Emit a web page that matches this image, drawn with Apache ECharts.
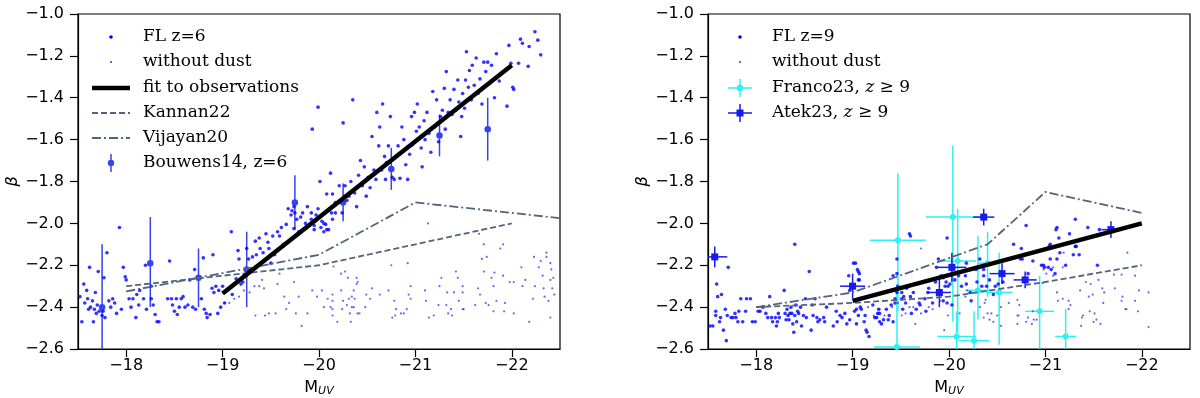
<!DOCTYPE html>
<html>
<head>
<meta charset="utf-8">
<script src="https://cdn.jsdelivr.net/npm/echarts@6/dist/echarts.min.js"></script>
<style>
html,body{margin:0;padding:0;background:#fff;}
#main{width:1200px;height:398px;}
</style>
</head>
<body>
<div id="main"></div>
<script>
// tick positions (M_UV)
var xTicks = [-22, -21, -20, -19, -18];

// z=6 simulated galaxies, with dust
var fl6Dust = [
	[-17.52,-2.35],[-17.54,-2.47],[-17.56,-2.29],[-17.57,-2.38],[-17.59,-2.32],[-17.61,-2.41],[-17.62,-2.21],[-17.63,-2.40],
	[-17.65,-2.37],[-17.66,-2.47],[-17.68,-2.33],[-17.69,-2.43],[-17.71,-2.23],[-17.72,-2.42],[-17.76,-2.42],[-17.77,-2.26],
	[-17.78,-2.45],[-17.80,-2.14],[-17.82,-2.37],[-17.84,-2.40],[-17.86,-2.36],[-17.88,-2.38],[-17.90,-2.43],[-17.93,-2.02],
	[-17.95,-2.41],[-17.97,-2.21],[-17.60,-2.36],[-17.70,-2.39],[-17.75,-2.44],[-17.67,-2.41],
	[-17.99,-2.255],[-18.00,-2.27],[-18.03,-2.36],[-18.05,-2.40],[-18.07,-2.36],[-18.10,-2.45],[-18.11,-2.34],[-18.13,-2.39],
	[-18.14,-2.32],[-18.18,-2.36],[-18.20,-2.20],[-18.21,-2.41],[-18.26,-2.30],[-18.26,-2.36],[-18.28,-2.39],[-18.30,-2.435],
	[-18.32,-2.47],[-18.34,-2.47],[-18.43,-2.36],[-18.45,-2.18],[-18.47,-2.36],[-18.48,-2.39],[-18.50,-2.42],[-18.52,-2.36],
	[-18.53,-2.435],[-18.55,-2.40],[-18.57,-2.36],[-18.59,-2.35],[-18.61,-2.40],[-18.64,-2.39],[-18.66,-2.27],[-18.69,-2.40],
	[-18.71,-2.22],[-18.72,-2.41],[-18.78,-2.36],[-18.80,-2.165],[-18.81,-2.41],[-18.83,-2.43],[-18.84,-2.45],[-18.87,-2.435],
	[-18.89,-2.31],[-18.90,-2.15],[-18.91,-2.33],[-18.93,-2.30],[-18.95,-2.43],[-18.96,-2.32],[-18.98,-2.40],[-19.00,-2.30],
	[-19.02,-2.38],[-19.05,-2.32],[-19.09,-2.04],[-19.10,-2.34],[-19.12,-2.29],[-19.14,-2.265],[-19.16,-2.13],[-19.17,-2.17],
	[-19.19,-2.29],[-19.21,-2.28],[-19.22,-2.25],[-19.25,-2.12],[-19.27,-2.17],[-19.29,-2.22],[-19.31,-2.16],[-19.34,-2.085],
	[-19.35,-2.15],[-19.38,-2.07],[-19.39,-2.12],[-19.42,-2.14],[-19.45,-2.05],[-19.47,-2.09],[-19.48,-2.12],[-19.50,-2.19],
	[-19.52,-2.06],[-19.54,-2.15],[-19.57,-2.04],[-19.59,-2.06],[-19.61,-2.02],[-19.63,-2.10],[-19.66,-2.005],[-19.68,-1.93],
	[-19.71,-1.96],[-19.72,-1.94],[-19.74,-2.025],[-19.77,-1.98],[-19.79,-2.04],[-19.81,-1.97],[-19.83,-1.95],[-19.86,-2.00],
	[-19.88,-1.92],[-19.90,-2.01],[-19.92,-1.98],[-19.95,-2.01],[-19.97,-1.96],[-19.99,-1.93],[-20.02,-2.02],[-20.03,-1.99],
	[-20.05,-2.04],[-20.07,-2.005],[-20.10,-2.03],[-20.14,-1.98],[-20.17,-1.95],
	[-19.74,-1.92],[-19.75,-1.95],[-19.93,-1.55],[-19.99,-1.445],[-20.01,-1.80],[-20.08,-1.86],[-20.12,-1.76],[-20.14,-1.86],
	[-20.17,-1.90],[-20.21,-1.82],[-20.24,-1.95],[-20.25,-1.52],[-20.27,-1.82],[-20.29,-1.89],[-20.31,-1.87],[-20.33,-1.80],
	[-20.35,-1.41],[-20.37,-1.855],[-20.39,-1.92],[-20.41,-1.77],[-20.43,-1.70],[-20.45,-1.82],[-20.47,-1.73],[-20.49,-1.87],
	[-20.51,-1.78],[-20.53,-1.83],[-20.55,-1.585],[-20.57,-1.745],[-20.59,-1.79],[-20.60,-1.47],[-20.62,-1.63],[-20.63,-1.54],
	[-20.65,-1.745],[-20.66,-1.43],[-20.68,-1.68],[-20.69,-1.79],[-20.70,-1.71],[-20.72,-1.63],[-20.74,-1.49],[-20.76,-1.78],
	[-20.78,-1.79],[-20.80,-1.68],[-20.82,-1.63],[-20.84,-1.785],[-20.86,-1.54],[-20.88,-1.60],[-20.90,-1.72],[-20.92,-1.79],
	[-20.94,-1.67],[-20.96,-1.49],[-20.97,-1.625],[-20.99,-1.47],[-21.01,-1.56],[-21.02,-1.43],[-21.04,-1.54],[-21.06,-1.64],
	[-21.07,-1.73],[-21.09,-1.51],[-21.10,-1.60],[-21.12,-1.47],[-21.14,-1.57],[-21.16,-1.66],[-21.18,-1.37],[-21.20,-1.54],
	[-21.22,-1.41],[-21.24,-1.61],[-21.26,-1.49],[-21.28,-1.46],[-21.30,-1.355],[-21.31,-1.55],[-21.32,-1.275],[-21.34,-1.47],
	[-21.36,-1.41],[-21.38,-1.48],[-21.40,-1.36],[-21.42,-1.46],[-21.44,-1.315],[-21.45,-1.42],[-21.47,-1.585],[-21.48,-1.49],
	[-21.49,-1.38],[-21.51,-1.45],[-21.52,-1.315],[-21.53,-1.18],[-21.55,-1.35],[-21.56,-1.27],[-21.58,-1.41],[-21.59,-1.245],
	[-21.61,-1.34],[-21.63,-1.21],[-21.65,-1.38],[-21.67,-1.31],[-21.69,-1.43],[-21.71,-1.23],[-21.73,-1.275],[-21.75,-1.23],
	[-21.77,-1.33],[-21.79,-1.245],[-21.82,-1.40],[-21.84,-1.19],[-21.87,-1.32],[-21.95,-1.44],[-21.97,-1.15],[-21.99,-1.235],
	[-22.01,-1.35],[-22.02,-1.36],[-22.07,-1.235],[-22.09,-1.12],[-22.11,-1.14],[-22.17,-1.25],[-22.18,-1.155],[-22.24,-1.085],
	[-22.27,-1.125],[-22.30,-1.195],
	[-19.92,-1.95],[-19.95,-2.03],[-20.05,-2.00],[-20.08,-2.03],[-20.13,-1.95]
];

// z=6 without dust
var fl6NoDust = [
	[-19.02,-2.38],[-19.07,-2.38],[-19.12,-2.36],[-19.17,-2.35],[-19.22,-2.32],[-19.28,-2.33],[-19.33,-2.30],[-19.38,-2.30],
	[-19.41,-2.27],[-19.43,-2.31],[-19.34,-2.44],[-19.44,-2.44],[-19.48,-2.43],[-19.55,-2.43],[-19.57,-2.29],[-19.59,-2.24],
	[-19.64,-2.35],[-19.66,-2.41],[-19.69,-2.38],[-19.74,-2.28],[-19.76,-2.43],[-19.79,-2.35],[-19.82,-2.49],[-19.88,-2.43],
	[-19.93,-2.32],[-19.98,-2.35],[-20.03,-2.32],[-20.05,-2.40],[-20.09,-2.36],[-20.14,-2.41],[-20.19,-2.47],[-20.24,-2.41],
	[-20.31,-2.36],[-20.34,-2.40],[-20.37,-2.36],[-20.40,-2.43],[-20.36,-2.32],[-20.40,-2.28],
	[-20.15,-2.206],[-20.23,-2.24],[-20.27,-2.23],[-20.30,-2.26],[-20.39,-2.26],[-20.39,-2.29],[-20.23,-2.32],[-20.14,-2.34],
	[-20.14,-2.37],[-20.25,-2.37],[-20.29,-2.39],[-20.34,-2.35],[-20.36,-2.40],[-20.12,-2.40],[-20.14,-2.44],[-20.32,-2.43],
	[-20.33,-2.47],[-20.42,-2.43],[-20.48,-2.40],[-20.49,-2.34],[-20.53,-2.36],[-20.55,-2.31],[-20.63,-2.34],[-20.72,-2.32],
	[-20.75,-2.20],[-20.76,-2.45],[-20.78,-2.37],[-20.79,-2.44],[-20.80,-2.41],[-20.85,-2.43],[-20.88,-2.43],[-20.91,-2.41],
	[-20.92,-2.19],[-20.93,-2.34],[-20.95,-2.30],[-20.95,-2.36],[-21.10,-2.32],[-21.11,-2.37],[-21.13,-2.00],[-21.14,-2.45],
	[-21.19,-2.44],[-21.24,-2.39],[-21.25,-2.30],[-21.27,-2.26],[-21.32,-2.39],[-21.33,-2.33],[-21.34,-2.43],[-21.37,-2.41],
	[-21.38,-2.44],[-21.40,-2.33],[-21.42,-2.23],[-21.44,-2.26],[-21.45,-2.37],[-21.49,-2.30],[-21.49,-2.33],[-21.49,-2.41],
	[-21.50,-2.41],[-21.62,-2.39],[-21.65,-2.31],[-21.66,-2.05],[-21.67,-2.34],[-21.69,-2.17],[-21.71,-2.10],[-21.71,-2.23],
	[-21.73,-2.38],[-21.74,-2.16],[-21.76,-2.39],[-21.79,-2.26],[-21.81,-2.30],[-21.81,-2.42],[-21.82,-2.235],[-21.84,-2.37],
	[-21.88,-2.12],[-21.91,-2.10],[-21.91,-2.25],[-21.92,-2.42],[-21.93,-2.38],[-21.98,-2.28],[-22.02,-2.28],[-22.02,-2.43],
	[-22.10,-2.21],[-22.11,-2.30],[-22.14,-2.27],[-22.18,-2.47],[-22.22,-2.36],[-22.23,-2.16],[-22.24,-2.30],[-22.28,-2.21],
	[-22.30,-2.18],[-22.32,-2.25],[-22.33,-2.31],[-22.34,-2.35],[-22.36,-2.14],[-22.36,-2.16],[-22.38,-2.37],[-22.40,-2.19],
	[-22.40,-2.45],[-22.40,-2.27],[-22.41,-2.22],[-22.42,-2.31],[-22.43,-2.26],[-22.44,-2.34]
];

// z=9 simulated galaxies, with dust
var fl9Dust = [
	[-17.52,-2.49],[-17.55,-2.49],[-17.58,-2.42],[-17.58,-2.44],[-17.59,-2.29],[-17.60,-2.35],[-17.62,-2.47],[-17.63,-2.45],
	[-17.64,-2.34],[-17.66,-2.51],[-17.68,-2.41],[-17.69,-2.56],[-17.70,-2.44],[-17.71,-2.21],[-17.74,-2.45],[-17.76,-2.45],
	[-17.78,-2.43],[-17.79,-2.45],[-17.81,-2.47],[-17.82,-2.42],[-17.84,-2.36],[-17.86,-2.47],[-17.89,-2.42],[-17.90,-2.36],
	[-17.94,-2.36],[-17.96,-2.47],[-17.99,-2.47],[-18.02,-2.42],[-18.04,-2.42],[-18.07,-2.40],[-18.10,-2.43],[-18.12,-2.45],
	[-18.14,-2.35],[-18.16,-2.45],[-18.17,-2.47],[-18.20,-2.45],[-18.21,-2.49],[-18.22,-2.47],[-18.23,-2.43],[-18.24,-2.45],
	[-18.29,-2.32],[-18.30,-2.43],[-18.31,-2.46],[-18.32,-2.41],[-18.33,-2.44],[-18.34,-2.46],[-18.35,-2.43],[-18.36,-2.40],
	[-18.37,-2.43],[-18.38,-2.48],[-18.39,-2.52],[-18.40,-2.44],[-18.40,-2.10],[-18.41,-2.39],[-18.42,-2.47],[-18.43,-2.42],
	[-18.44,-2.43],[-18.46,-2.40],[-18.47,-2.49],[-18.49,-2.44],[-18.51,-2.36],[-18.52,-2.45],[-18.55,-2.23],[-18.57,-2.51],
	[-18.58,-2.39],[-18.59,-2.44],[-18.61,-2.36],[-18.63,-2.45],[-18.64,-2.47],[-18.66,-2.46],[-18.70,-2.45],[-18.71,-2.47],
	[-18.73,-2.40],[-18.80,-2.49],[-18.83,-2.42],[-18.84,-2.47],[-18.87,-2.44],[-18.89,-2.45],[-18.92,-2.43],[-18.94,-2.48],
	[-18.97,-2.46],[-19.01,-2.19],[-19.02,-2.42],[-19.04,-2.48],[-19.05,-2.22],[-19.06,-2.27],[-19.07,-2.24],[-19.08,-2.40],
	[-19.09,-2.41],[-19.13,-2.44],[-19.14,-2.51],[-19.17,-2.54],[-19.21,-2.39],[-19.25,-2.45],[-19.27,-2.41],[-19.28,-2.43],
	[-19.30,-2.48],[-19.32,-2.46],[-19.35,-2.41],[-19.38,-2.44],[-19.40,-2.39],[-19.44,-2.36],[-19.46,-2.17],[-19.46,-2.33],
	[-19.49,-2.31],[-19.51,-2.36],[-19.52,-2.41],[-19.55,-2.38],[-19.59,-2.05],[-19.61,-2.43],[-19.66,-2.41],[-19.70,-2.39],
	[-19.75,-2.36],[-19.78,-2.33],[-19.83,-2.38],[-19.86,-2.28],
	[-19.03,-2.19],[-19.06,-2.23],[-19.07,-2.27],[-18.96,-2.25],[-18.97,-2.32],[-19.04,-2.41],[-19.06,-2.44],[-19.12,-2.47],
	[-19.15,-2.52],[-19.23,-2.45],[-19.26,-2.43],[-19.28,-2.47],[-19.37,-2.46],[-19.42,-2.47],[-19.42,-2.25],[-19.44,-2.38],
	[-19.46,-2.24],[-19.47,-2.30],[-19.51,-2.33],[-19.53,-2.35],[-19.56,-2.31],[-19.60,-2.06],[-19.60,-2.35],[-19.63,-2.33],
	[-19.69,-2.38],[-19.76,-2.42],[-19.79,-2.31],[-19.87,-2.21],[-19.89,-2.17],[-19.92,-2.25],[-19.94,-2.26],[-19.94,-2.37],
	[-19.96,-2.30],[-19.97,-2.28],[-19.98,-2.38],[-19.98,-2.07],[-19.99,-2.30],[-20.01,-2.29],[-20.03,-2.39],[-20.06,-2.27],
	[-20.10,-2.25],[-20.13,-2.30],[-20.17,-2.25],[-20.18,-2.29],[-20.18,-2.19],[-20.22,-2.33],[-20.23,-2.37],[-20.28,-2.22],
	[-20.29,-2.28],[-20.32,-2.17],[-20.34,-2.30],[-20.36,-2.25],
	[-20.36,-2.22],[-20.42,-2.27],[-20.39,-2.30],[-20.46,-2.34],[-20.48,-2.30],[-20.51,-2.29],[-20.56,-2.28],[-20.67,-2.10],
	[-20.74,-2.17],[-20.75,-2.12],[-20.76,-2.17],[-20.80,-2.01],[-20.82,-2.24],[-20.87,-2.18],[-20.96,-2.20],[-20.98,-2.20],
	[-20.99,-2.21],[-21.03,-2.21],[-21.04,-2.11],[-21.05,-2.10],[-21.05,-2.17],[-21.06,-2.22],[-21.10,-2.24],[-21.11,-2.03],
	[-21.12,-2.17],[-21.12,-2.02],[-21.14,-2.07],[-21.15,-2.14],[-21.21,-2.20],[-21.25,-2.05],[-21.29,-2.15],[-21.31,-1.98],
	[-21.31,-2.11],[-21.32,-2.11],[-21.35,-2.15],[-21.44,-2.02],[-21.54,-2.20],[-21.56,-2.03]
];

// z=9 without dust
var fl9NoDust = [
	[-19.16,-2.40],[-19.22,-2.44],[-19.28,-2.41],[-19.33,-2.44],[-19.41,-2.40],[-19.47,-2.38],[-19.51,-2.44],[-19.55,-2.43],
	[-19.59,-2.40],[-19.63,-2.40],[-19.65,-2.48],[-19.71,-2.43],[-19.71,-2.12],[-19.79,-2.40],[-19.83,-2.41],[-19.91,-2.37],
	[-19.95,-2.51],[-19.99,-2.44],[-20.11,-2.43],[-20.17,-2.35],[-20.19,-2.32],[-20.32,-2.40],[-20.38,-2.365],[-20.40,-2.43],
	[-20.46,-2.47],[-20.50,-2.44],[-20.62,-2.38],[-20.71,-2.365],[-20.71,-2.44],[-20.71,-2.48],[-20.82,-2.45],[-20.86,-2.48],
	[-20.91,-2.46],[-20.97,-2.285],[-20.98,-2.22],[-21.08,-2.21],[-21.08,-2.25],[-21.18,-2.36],[-21.18,-2.21],[-21.19,-2.14],
	[-21.24,-2.37],[-21.38,-2.45],[-21.42,-2.28],[-21.45,-2.35],[-21.47,-2.29],[-21.51,-2.43],[-21.53,-2.46],[-21.57,-2.48],
	[-21.59,-2.31],[-21.61,-2.33],[-21.71,-2.245],[-21.79,-2.245],[-21.80,-2.35],[-21.83,-2.41],[-21.85,-2.14],[-21.93,-2.25],
	[-21.93,-2.37],[-21.96,-2.42],[-21.97,-2.32],[-22.07,-2.33],[-22.07,-2.495],
	[-21.12,-2.33],[-21.13,-2.37],[-21.26,-2.39],[-21.36,-2.32],[-21.49,-2.34],[-21.55,-2.27],[-21.60,-2.38],[-21.72,-2.31],
	[-21.79,-2.37],[-21.84,-2.41],[-21.46,-2.42],[-21.50,-2.47],[-21.39,-2.44],[-21.37,-2.49],[-21.24,-2.41],[-21.01,-2.24],
	[-20.88,-2.46],[-20.87,-2.42],[-20.80,-2.47],[-20.73,-2.39],[-20.72,-2.44],[-20.54,-2.40],[-20.54,-2.49],[-20.44,-2.43],
	[-20.42,-2.46],[-20.37,-2.38],[-20.36,-2.45]
];

// model lines
var fit6 = [[-19, -2.335], [-22, -1.245]];
var kannan6 = [[-18, -2.30], [-20, -2.20], [-21, -2.10], [-22, -2.00]];
var vijayan6 = [[-18, -2.325], [-20, -2.15], [-21, -1.90], [-22.5, -1.975]];
var fit9 = [[-19, -2.37], [-22, -2.00]];
var kannan9 = [[-18, -2.40], [-19, -2.38], [-20, -2.35], [-21, -2.28], [-22, -2.20]];
var vijayan9 = [[-18, -2.40], [-19, -2.33], [-20.4, -2.10], [-21, -1.85], [-22, -1.95]];

// observations: [M_UV, beta, xerr, yerr low, yerr high]
var bouwens14 = [
	[-17.75,-2.40,0,0.30,0.30],[-18.25,-2.19,0,0.21,0.22],[-18.75,-2.26,0,0.14,0.14],
	[-19.25,-2.22,0,0.18,0.18],[-19.75,-1.90,0,0.13,0.13],[-20.25,-1.90,0,0.09,0.09],
	[-20.75,-1.74,0,0.10,0.10],[-21.25,-1.58,0,0.10,0.10],[-21.75,-1.55,0,0.15,0.15]
];
var franco23 = [
	[-19.47,-2.08,0.29,0.34,0.32],[-19.46,-2.59,0.24,0.30,0.30],[-20.04,-1.97,0.28,0.50,0.34],
	[-20.09,-2.18,0.19,0.34,0.25],[-20.30,-2.32,0.13,0.14,0.26],[-20.40,-2.19,0.10,0.16,0.15],
	[-20.52,-2.33,0.14,0.25,0.19],[-20.94,-2.42,0.15,0.20,0.17],[-21.21,-2.54,0.11,0.13,0.13],
	[-20.08,-2.54,0.20,0.12,0.12],[-20.26,-2.56,0.16,0.14,0.14]
];
var atek23 = [
	[-17.57,-2.16,0.13,0.05,0.05],[-19.00,-2.30,0.13,0.06,0.06],[-19.90,-2.33,0.12,0.07,0.07],
	[-20.03,-2.21,0.15,0.07,0.07],[-20.36,-1.97,0.11,0.04,0.04],[-20.55,-2.24,0.13,0.05,0.05],
	[-20.79,-2.27,0.12,0.04,0.04],[-21.68,-2.03,0.10,0.04,0.04]
];

var MODEL = '#52657a';
var DUST = '#0000ff';
var NODUST = '#4040ff';

function clamp(v, a, b){
	return Math.max(a, Math.min(b, v));
}

// error bars drawn with a custom series
function errorBars(color, symbol, size){
	return function(params, api){
		var cs = params.coordSys;
		var x = api.value(0), y = api.value(1), xe = api.value(2), ylo = api.value(3), yhi = api.value(4);
		var c = api.coord([x, y]);
		var l = api.coord([x + xe, y]);
		var r = api.coord([x - xe, y]);
		var t = api.coord([x, y + yhi]);
		var b = api.coord([x, y - ylo]);
		var x0 = cs.x, x1 = cs.x + cs.width, y0 = cs.y, y1 = cs.y + cs.height;
		var ls = {stroke: color, lineWidth: 1.5};
		var kids = [
			{type:'line', shape:{x1:c[0], y1:clamp(t[1],y0,y1), x2:c[0], y2:clamp(b[1],y0,y1)}, style:ls}
		];
		if (xe > 0) {
			kids.push({type:'line', shape:{x1:clamp(l[0],x0,x1), y1:c[1], x2:clamp(r[0],x0,x1), y2:c[1]}, style:ls});
		}
		if (symbol == 'rect') {
			kids.push({type:'rect', shape:{x:c[0]-size/2, y:c[1]-size/2, width:size, height:size}, style:{fill:color}});
		} else {
			kids.push({type:'circle', shape:{cx:c[0], cy:c[1], r:size/2}, style:{fill:color}});
		}
		return {type:'group', children:kids};
	};
}

function xAxisCfg(idx){
	return {
		gridIndex: idx, type: 'value', min: -22.5, max: -17.5, inverse: true,
		splitLine: {show: false},
		axisLine: {show: true, onZero: false, lineStyle: {color: '#000', width: 1.2}},
		axisTick: {show: true, length: 8, customValues: xTicks, lineStyle: {color: '#000', width: 1.2}},
		axisLabel: {
			customValues: xTicks, color: '#000', fontSize: 16, fontFamily: 'DejaVu Sans', margin: 9,
			formatter: function(v){ return '\u2212' + Math.abs(Math.round(v)); }
		},
		name: '{m|M}{s|UV}', nameLocation: 'middle', nameGap: 27,
		nameTextStyle: {
			rich: {
				m: {fontSize: 16, fontFamily: 'DejaVu Sans', color: '#000', lineHeight: 18},
				s: {fontSize: 11, fontFamily: 'DejaVu Sans', fontStyle: 'italic', color: '#000', padding: [7, 0, 0, 0], lineHeight: 18}
			}
		}
	};
}

function yAxisCfg(idx){
	return {
		gridIndex: idx, type: 'value', min: -2.6, max: -1.0, interval: 0.2,
		splitLine: {show: false},
		axisLine: {show: true, onZero: false, lineStyle: {color: '#000', width: 1.2}},
		axisTick: {show: true, length: 8, lineStyle: {color: '#000', width: 1.2}},
		axisLabel: {
			color: '#000', fontSize: 16, fontFamily: 'DejaVu Sans', margin: 14,
			formatter: function(v){ return '\u2212' + Math.abs(v).toFixed(1); }
		},
		name: '\u03b2', nameLocation: 'middle', nameGap: 54, nameRotate: 90,
		nameTextStyle: {color: '#000', fontSize: 16, fontStyle: 'italic', fontFamily: 'DejaVu Sans'}
	};
}

function lineSeries(idx, data, color, width, type){
	return {
		type: 'line', xAxisIndex: idx, yAxisIndex: idx, data: data, showSymbol: false, symbol: 'none',
		lineStyle: {color: color, width: width, type: type}, silent: true, animation: false
	};
}

function dots(idx, data, color, size){
	return {
		type: 'scatter', xAxisIndex: idx, yAxisIndex: idx, data: data, symbol: 'circle', symbolSize: size,
		itemStyle: {color: color}, silent: true, animation: false
	};
}

function errSeries(idx, data, color, symbol, size){
	return {
		type: 'custom', xAxisIndex: idx, yAxisIndex: idx, data: data, encode: {x: 0, y: 1},
		renderItem: errorBars(color, symbol, size), silent: true, animation: false
	};
}

// legend drawn by hand, one row every 25px
var TXT = '17px "DejaVu Serif"';
function legendText(x, y, text, rich){
	var st = {x: x, y: y, text: text, font: TXT, fill: '#000', verticalAlign: 'middle'};
	if (rich) st.rich = rich;
	return {type: 'text', style: st};
}
function legendLine(x, y, color, width, dash){
	return {type: 'line', shape: {x1: x - 19, y1: y, x2: x + 19, y2: y}, style: {stroke: color, lineWidth: width, lineDash: dash || null}};
}
function legendDot(x, y, r, color){
	return {type: 'circle', shape: {cx: x, cy: y, r: r}, style: {fill: color}};
}
function legendErr(x, y, color, xbar, symbol){
	var g = [
		{type: 'line', shape: {x1: x, y1: y - 9, x2: x, y2: y + 9}, style: {stroke: color, lineWidth: 1.5}}
	];
	if (xbar) g.push({type: 'line', shape: {x1: x - 12, y1: y, x2: x + 12, y2: y}, style: {stroke: color, lineWidth: 1.5}});
	if (symbol == 'rect') g.push({type: 'rect', shape: {x: x - 3.5, y: y - 3.5, width: 7, height: 7}, style: {fill: color}});
	else g.push(legendDot(x, y, 3.2, color));
	return g;
}

var zRich = {
	i: {font: 'italic 17px "DejaVu Serif"', fill: '#000'}
};

var lx = 111, tx = 143, rx = 740, rtx = 772;
var graphics = [
	legendDot(lx, 37, 1.8, DUST), legendText(tx, 37, 'FL z=6'),
	legendDot(lx, 62, 1.1, NODUST), legendText(tx, 62, 'without dust'),
	legendLine(lx, 88, '#000', 4.5), legendText(tx, 88, 'fit to observations'),
	legendLine(lx, 113, MODEL, 1.8, [6, 3]), legendText(tx, 113, 'Kannan22'),
	legendLine(lx, 138, MODEL, 1.8, [9, 3, 2, 3]), legendText(tx, 138, 'Vijayan20'),
	legendText(tx, 163, 'Bouwens14, z=6'),
	legendDot(rx, 37, 1.8, DUST), legendText(rtx, 37, 'FL z=9'),
	legendDot(rx, 62, 1.1, NODUST), legendText(rtx, 62, 'without dust'),
	legendText(rtx, 88, 'Franco23, {i|z} \u2265 9', zRich),
	legendText(rtx, 113, 'Atek23, {i|z} \u2265 9', zRich)
].concat(legendErr(lx, 163, '#3344f0', false, 'circle'))
 .concat(legendErr(rx, 88, '#2ef0f0', true, 'circle'))
 .concat(legendErr(rx, 113, '#1a1aee', true, 'rect'));

var option = {
	backgroundColor: '#fff',
	animation: false,
	grid: [
		{left: 78, top: 14, width: 482, height: 335, show: true, borderColor: '#000', borderWidth: 1.2, outerBoundsMode: 'none', containLabel: false},
		{left: 708, top: 14, width: 482, height: 335, show: true, borderColor: '#000', borderWidth: 1.2, outerBoundsMode: 'none', containLabel: false}
	],
	xAxis: [xAxisCfg(0), xAxisCfg(1)],
	yAxis: [yAxisCfg(0), yAxisCfg(1)],
	series: [
		dots(0, fl6NoDust, NODUST, 2.2),
		dots(0, fl6Dust, DUST, 3.6),
		lineSeries(0, kannan6, MODEL, 1.8, [6, 3]),
		lineSeries(0, vijayan6, MODEL, 1.8, [9, 3, 2, 3]),
		lineSeries(0, fit6, '#000', 4.5, 'solid'),
		errSeries(0, bouwens14, '#3344f0', 'circle', 6.5),
		dots(1, fl9NoDust, NODUST, 2.2),
		dots(1, fl9Dust, DUST, 3.6),
		lineSeries(1, kannan9, MODEL, 1.8, [6, 3]),
		lineSeries(1, vijayan9, MODEL, 1.8, [9, 3, 2, 3]),
		lineSeries(1, fit9, '#000', 4.5, 'solid'),
		errSeries(1, franco23, '#2ef0f0', 'circle', 6),
		errSeries(1, atek23, '#1a1aee', 'rect', 7)
	],
	graphic: graphics
};

var myChart = echarts.init(document.getElementById('main'));
myChart.setOption(option);
</script>
</body>
</html>
